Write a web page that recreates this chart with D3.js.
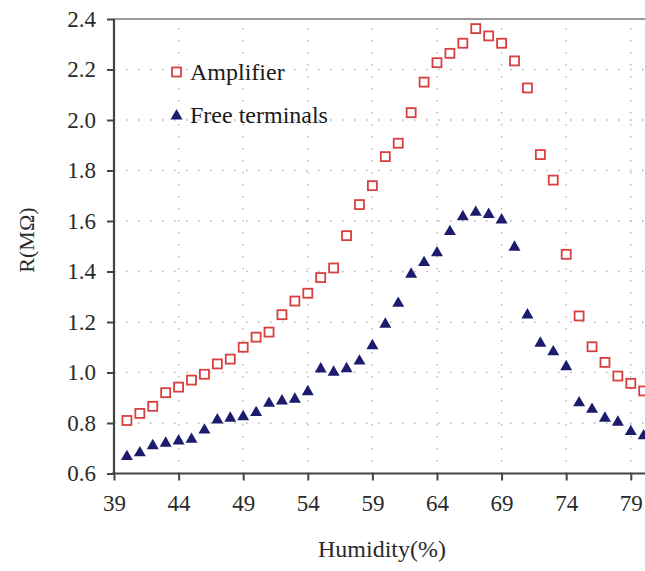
<!DOCTYPE html>
<html><head><meta charset="utf-8">
<script src="https://cdn.jsdelivr.net/npm/d3@7"></script>
<style>html,body{margin:0;padding:0;background:#fff;overflow:hidden}</style>
</head><body>
<svg id="c" width="645" height="571"></svg>
<script>
const humidity = [40,41,42,43,44,45,46,47,48,49,50,51,52,53,54,55,56,57,58,59,60,61,62,63,64,65,66,67,68,69,70,71,72,73,74,75,76,77,78,79,80];
const amplifier = [0.81,0.838,0.866,0.92,0.942,0.97,0.993,1.034,1.053,1.10,1.14,1.16,1.229,1.283,1.314,1.376,1.414,1.542,1.665,1.74,1.855,1.908,2.029,2.15,2.227,2.264,2.304,2.362,2.333,2.304,2.234,2.127,1.863,1.762,1.468,1.224,1.102,1.04,0.986,0.957,0.927];
const freeTerminals = [0.667,0.682,0.71,0.72,0.729,0.735,0.772,0.812,0.819,0.825,0.841,0.878,0.887,0.894,0.924,1.014,1.001,1.015,1.045,1.106,1.191,1.274,1.389,1.435,1.474,1.558,1.617,1.634,1.626,1.604,1.496,1.228,1.116,1.082,1.023,0.88,0.854,0.819,0.803,0.766,0.749];
const xTicks = [39,44,49,54,59,64,69,74,79];
const yTicks = [0.6,0.8,1.0,1.2,1.4,1.6,1.8,2.0,2.2,2.4];
const seriesNames = ["Amplifier","Free terminals"];

const svg = d3.select("#c");
const x = d3.scaleLinear().domain([39, 80.1]).range([114, 645]);
const y = d3.scaleLinear().domain([0.6, 2.4]).range([473.5, 19]);
const font = "Liberation Serif, Tinos, Times New Roman, DejaVu Serif, serif";

// grid
const grid = svg.append("g").attr("stroke","#b8b8b8").attr("stroke-width",1.4).attr("stroke-dasharray","1.6,10.4");
grid.selectAll("line.h").data(yTicks.filter(d=>d>0.6&&d<2.4)).join("line")
  .attr("x1",x(39)).attr("x2",645).attr("y1",d=>y(d)).attr("y2",d=>y(d));
grid.selectAll("line.v").data(xTicks.filter(d=>d>39)).join("line")
  .attr("y1",y(0.6)).attr("y2",y(2.4)).attr("x1",d=>x(d)).attr("x2",d=>x(d));

// top border
svg.append("line").attr("x1",x(39)).attr("x2",645).attr("y1",y(2.4)).attr("y2",y(2.4))
  .attr("stroke","#777").attr("stroke-width",1.6);

// axes
const gx = svg.append("g").attr("transform",`translate(0,${y(0.6)})`)
  .call(d3.axisBottom(x).tickValues(xTicks).tickSize(7).tickPadding(14).tickFormat(d3.format("d")));
const gy = svg.append("g").attr("transform",`translate(${x(39)},0)`)
  .call(d3.axisLeft(y).tickValues(yTicks).tickSize(7).tickPadding(11).tickFormat(d3.format(".1f")));
[gx,gy].forEach(g=>{
  g.attr("font-family",font).attr("font-size",23);
  g.select(".domain").attr("stroke","#444").attr("stroke-width",2.2);
  g.selectAll(".tick line").attr("stroke","#444").attr("stroke-width",2);
  g.selectAll(".tick text").attr("fill","#2a2a2a");
});
gx.select(".domain").attr("d",`M${x(39)-2},0H645`);
gy.select(".domain").attr("d",`M0,${y(0.6)+1}V${y(2.4)}`);

// markers
const tri = d3.symbol().type(d3.symbolTriangle).size(62);
svg.append("g").selectAll("path").data(humidity).join("path")
  .attr("d",tri).attr("fill","#1c1c6e")
  .attr("transform",(d,i)=>`translate(${x(d)},${y(freeTerminals[i])})`);
svg.append("g").selectAll("rect").data(humidity).join("rect")
  .attr("x",(d)=>x(d)-4.5).attr("y",(d,i)=>y(amplifier[i])-4.5)
  .attr("width",9).attr("height",9)
  .attr("fill","#fff").attr("stroke","#d8403f").attr("stroke-width",1.8);

// legend
const lg = svg.append("g");
lg.append("rect").attr("x",172).attr("y",67.5).attr("width",9).attr("height",9)
  .attr("fill","#fff").attr("stroke","#d8403f").attr("stroke-width",1.8);
lg.append("path").attr("d",tri).attr("fill","#1c1c6e").attr("transform","translate(176.5,116)");
lg.selectAll("text").data(seriesNames).join("text")
  .attr("x",190).attr("y",(d,i)=>80+i*43)
  .attr("fill","#1a1a1a").attr("font-family",font).attr("font-size",24)
  .text(d=>d);

// titles
svg.append("text").attr("x",382).attr("y",557).attr("text-anchor","middle")
  .attr("fill","#2a2a2a").attr("font-family",font).attr("font-size",24).text("Humidity(%)");
svg.append("text").attr("transform","translate(34,240) rotate(-90)").attr("text-anchor","middle")
  .attr("fill","#2a2a2a").attr("font-family",font).attr("font-size",22).text("R(MΩ)");
</script>
</body></html>
